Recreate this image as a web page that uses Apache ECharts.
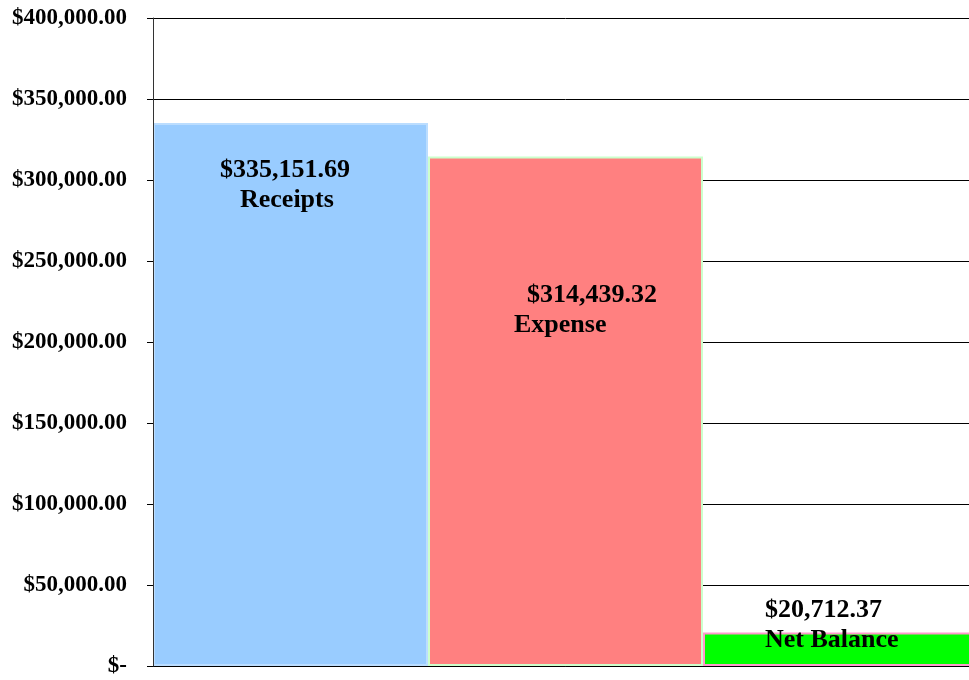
<!DOCTYPE html>
<html>
<head>
<meta charset="utf-8">
<script src="https://cdn.jsdelivr.net/npm/echarts@6/dist/echarts.min.js"></script>
<style>
  html, body { margin: 0; padding: 0; background: #fff; overflow: hidden; }
  #chart { width: 978px; height: 680px; }
</style>
</head>
<body>
<div id="chart"></div>
<script>
const categories = ["Receipts", "Expense", "Net Balance"];
const amounts = [335151.69, 314439.32, 20712.37];
const amountLabels = ["$335,151.69", "$314,439.32", "$20,712.37"];
const barColors = ["#99CCFF", "#FF8080", "#00FF00"];
const barBorders = ["#BBDDFF", "#CCFFCC", "#FF99CC"];
const yTicks = [0, 50000, 100000, 150000, 200000, 250000, 300000, 350000, 400000];

const font = "'Liberation Serif', 'Times New Roman', serif";

// label placement per bar (offset from bar top-left), line indents
const labelPos = [[67, 32], [86, 124], [62, -37]];
const firstIndent = [0, 13, 0];
const secondIndent = [20, 0, 0];

// plot runs a little past the right edge of the window, like the original
const chart = echarts.init(document.getElementById("chart"));

const fmt = v => {
  if (v === 0) return "$-";
  return "$" + v.toLocaleString("en-US", { minimumFractionDigits: 2, maximumFractionDigits: 2 });
};

const yMin = yTicks[0];
const yMax = yTicks[yTicks.length - 1];

chart.setOption({
  animation: false,
  grid: { left: 153, right: 0, top: 18, bottom: 14, containLabel: false },
  xAxis: {
    type: "category",
    data: categories,
    axisLine: { show: true, lineStyle: { color: "#000", width: 1 } },
    axisTick: { show: false },
    axisLabel: { show: false }
  },
  yAxis: [{
    type: "value",
    min: yMin,
    max: yMax,
    interval: 50000,
    axisLine: { show: false },
    axisTick: { show: true, length: 6, lineStyle: { color: "#000" } },
    splitLine: { show: true, lineStyle: { color: "#000", width: 1 } },
    axisLabel: {
      margin: 26,
      color: "#000",
      fontFamily: font,
      fontWeight: "bold",
      fontSize: 23,
      formatter: fmt
    }
  }, {
    // axis line only, drawn over the bars
    type: "value",
    position: "left",
    min: yMin,
    max: yMax,
    z: 10,
    axisLine: { show: true, lineStyle: { color: "#333", width: 1 } },
    axisTick: { show: false },
    axisLabel: { show: false },
    splitLine: { show: false }
  }],
  series: [{
    type: "bar",
    barWidth: "100%",
    barCategoryGap: 0,
    data: amounts.map((v, i) => ({
      value: v,
      itemStyle: { color: barColors[i], borderColor: barBorders[i], borderWidth: 2 },
      label: {
        show: true,
        position: labelPos[i],
        align: "left",
        verticalAlign: "top",
        formatter: "{a|" + amountLabels[i] + "}\n{b|" + categories[i] + "}",
        rich: {
          a: { fontFamily: font, fontWeight: "bold", fontSize: 26, color: "#000", lineHeight: 30, padding: [0, 0, 0, firstIndent[i]] },
          b: { fontFamily: font, fontWeight: "bold", fontSize: 26, color: "#000", lineHeight: 30, padding: [0, 0, 0, secondIndent[i]] }
        }
      }
    }))
  }]
});
</script>
</body>
</html>
